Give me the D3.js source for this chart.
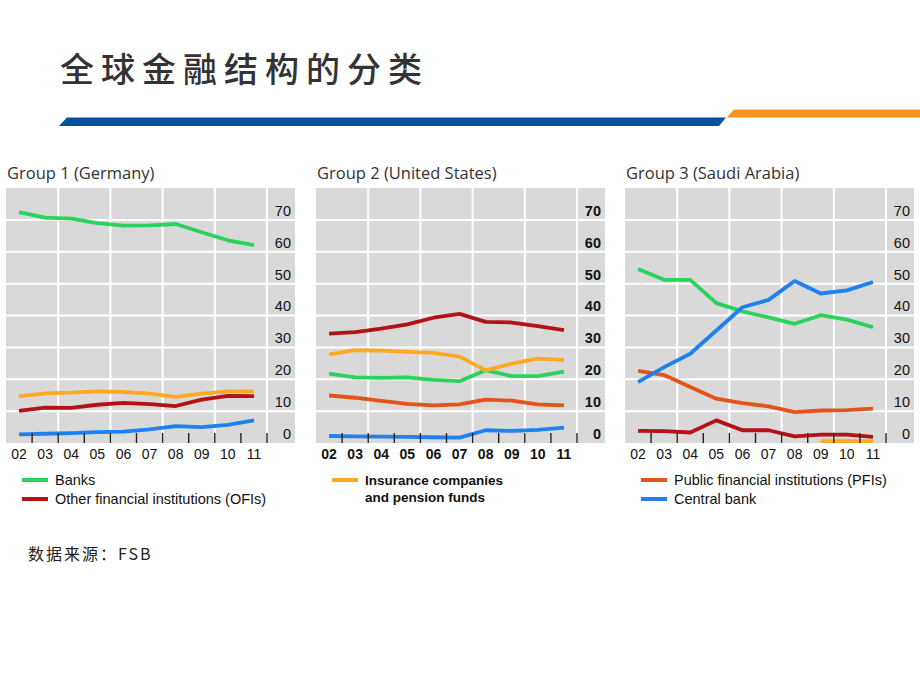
<!DOCTYPE html>
<html>
<head>
<meta charset="utf-8">
<script src="https://cdn.jsdelivr.net/npm/d3@7/dist/d3.min.js"></script>
<style>
  html, body { margin: 0; padding: 0; background: #ffffff; }
  svg { display: block; }
</style>
</head>
<body>
<svg id="chart" width="920" height="690"></svg>
<script>
// ---------------- DATA ----------------
const years = ["02", "03", "04", "05", "06", "07", "08", "09", "10", "11"];
const yTickValues = [0, 10, 20, 30, 40, 50, 60, 70];

// Group 1 (Germany), % of financial assets
const deBanks     = [72.4, 70.7, 70.4, 69.0, 68.2, 68.3, 68.7, 66.1, 63.6, 62.1];
const deInsurance = [14.6, 15.6, 15.8, 16.2, 16.0, 15.5, 14.5, 15.5, 16.2, 16.2];
const deOFIs      = [10.1, 11.1, 11.0, 12.0, 12.6, 12.2, 11.6, 13.6, 14.8, 14.7];
const deCentral   = [2.7, 2.9, 3.1, 3.4, 3.6, 4.3, 5.3, 5.0, 5.7, 7.1];

// Group 2 (United States)
const usOFIs      = [34.3, 34.8, 35.9, 37.2, 39.3, 40.5, 38.0, 37.8, 36.7, 35.4];
const usInsurance = [27.8, 29.1, 29.0, 28.6, 28.3, 27.1, 22.8, 24.9, 26.5, 26.1];
const usBanks     = [21.8, 20.6, 20.4, 20.6, 19.8, 19.4, 22.8, 21.0, 21.0, 22.4];
const usPFIs      = [14.9, 14.2, 13.2, 12.3, 11.8, 12.1, 13.6, 13.3, 12.1, 11.8];
const usCentral   = [2.2, 2.1, 2.0, 1.9, 1.8, 1.7, 4.0, 3.8, 4.1, 4.8];

// Group 3 (Saudi Arabia)
const saBanks     = [54.6, 51.2, 51.2, 43.9, 41.3, 39.4, 37.4, 40.1, 38.7, 36.3];
const saCentral   = [19.1, 23.8, 28.0, 35.3, 42.6, 44.9, 50.8, 46.9, 47.9, 50.5];
const saPFIs      = [22.6, 21.3, 17.6, 13.9, 12.5, 11.5, 9.7, 10.2, 10.3, 10.8];
const saOFIs      = [3.8, 3.7, 3.3, 7.1, 4.0, 4.0, 2.1, 2.6, 2.6, 1.9];
const saInsurance = [null, null, null, null, null, null, null, 0.6, 0.6, 0.6];

const seriesLabels = {
  banks: "Banks",
  ofis: "Other financial institutions (OFIs)",
  insurance: ["Insurance companies", "and pension funds"],
  pfis: "Public financial institutions (PFIs)",
  central: "Central bank"
};
const panelTitles = ["Group 1 (Germany)", "Group 2 (United States)", "Group 3 (Saudi Arabia)"];
const mainTitle = "全球金融结构的分类";
const sourceText = "数据来源：FSB";

// ---------------- STYLE ----------------
const colors = {
  banks: "#2bd35c",
  ofis: "#b31217",
  insurance: "#fda924",
  pfis: "#e2541a",
  central: "#1f80f0"
};

const panels = [
  { title: panelTitles[0], left: 6, bold: false,
    series: [["banks", deBanks], ["insurance", deInsurance], ["ofis", deOFIs], ["central", deCentral]],
    legend: [["banks", [seriesLabels.banks]], ["ofis", [seriesLabels.ofis]]] },
  { title: panelTitles[1], left: 316, bold: true,
    series: [["banks", usBanks], ["insurance", usInsurance], ["ofis", usOFIs], ["pfis", usPFIs], ["central", usCentral]],
    legend: [["insurance", seriesLabels.insurance]] },
  { title: panelTitles[2], left: 625, bold: false,
    series: [["banks", saBanks], ["insurance", saInsurance], ["ofis", saOFIs], ["pfis", saPFIs], ["central", saCentral]],
    legend: [["pfis", [seriesLabels.pfis]], ["central", [seriesLabels.central]]] }
];

const svg = d3.select("#chart");

// ---------------- HEADER ----------------
svg.append("text")
  .attr("x", 60).attr("y", 82)
  .attr("font-family", "'Noto Sans CJK SC', sans-serif")
  .attr("font-size", 34)
  .attr("font-weight", 500)
  .attr("letter-spacing", 7)
  .attr("fill", "#333333")
  .text(mainTitle);

// banner bars (parallelograms)
svg.append("path")
  .attr("d", "M67,117.5 L726,117.5 L719,126 L59,126 Z")
  .attr("fill", "#0a4f9f");
svg.append("path")
  .attr("d", "M734,109.5 L920,109.5 L920,117.5 L727,117.5 Z")
  .attr("fill", "#f7941d");

// ---------------- PANELS ----------------
const plotTop = 188, plotBottom = 443, panelWidth = 289, bandsWidth = 261;
const y = d3.scaleLinear().domain([0, 80]).range([plotBottom, plotTop]);

panels.forEach(p => {
  const g = svg.append("g");
  const x = d3.scaleBand().domain(years).range([p.left, p.left + bandsWidth]);
  const cx = d => x(d) + x.bandwidth() / 2;

  // title
  g.append("text")
    .attr("x", p.left + 1).attr("y", 179)
    .attr("font-family", "'Open Sans', 'Noto Sans', sans-serif")
    .attr("font-size", 16.5)
    .attr("fill", "#333")
    .text(p.title);

  // background
  g.append("rect")
    .attr("x", p.left).attr("y", plotTop)
    .attr("width", panelWidth).attr("height", plotBottom - plotTop)
    .attr("fill", "#d9d9d9");

  // horizontal gridlines
  g.append("g").selectAll("line")
    .data(yTickValues.filter(v => v > 0))
    .join("line")
    .attr("x1", p.left).attr("x2", p.left + panelWidth)
    .attr("y1", d => y(d)).attr("y2", d => y(d))
    .attr("stroke", "#ffffff").attr("stroke-width", 2);

  // vertical gridlines (every second year boundary)
  g.append("g").selectAll("line")
    .data(years.filter((d, i) => i % 2 === 1))
    .join("line")
    .attr("x1", d => x(d) + x.bandwidth()).attr("x2", d => x(d) + x.bandwidth())
    .attr("y1", plotTop).attr("y2", plotBottom)
    .attr("stroke", "#ffffff").attr("stroke-width", 2);

  // y labels (drawn above their gridline, inside the right strip)
  const yAxis = d3.axisLeft(y).tickValues(yTickValues).tickSize(0).tickPadding(0).tickFormat(d3.format("d"));
  const ya = g.append("g").attr("transform", `translate(${p.left + 285},0)`).call(yAxis);
  ya.select(".domain").remove();
  ya.selectAll("text")
    .attr("dy", "-0.32em")
    .attr("font-family", "'Liberation Sans', Arial, sans-serif")
    .attr("font-size", 14.5)
    .attr("font-weight", p.bold ? "bold" : "normal")
    .attr("fill", "#111");

  // lines
  const line = d3.line()
    .defined(d => d.v !== null)
    .x(d => cx(d.year))
    .y(d => y(d.v));
  p.series.forEach(([key, vals]) => {
    g.append("path")
      .datum(years.map((yr, i) => ({ year: yr, v: vals[i] })))
      .attr("d", line)
      .attr("fill", "none")
      .attr("stroke", colors[key])
      .attr("stroke-width", 3.8)
      .attr("stroke-linejoin", "round");
  });

  // bottom ticks at year boundaries
  g.append("g").selectAll("line")
    .data(years)
    .join("line")
    .attr("x1", d => x(d) + x.bandwidth()).attr("x2", d => x(d) + x.bandwidth())
    .attr("y1", plotBottom - 10).attr("y2", plotBottom)
    .attr("stroke", "#222").attr("stroke-width", 1.4);

  // x labels
  const xAxis = d3.axisBottom(x).tickSize(0).tickPadding(6);
  const xa = g.append("g").attr("transform", `translate(0,${plotBottom})`).call(xAxis);
  xa.select(".domain").remove();
  xa.selectAll("text")
    .attr("font-family", "'Liberation Sans', Arial, sans-serif")
    .attr("font-size", 14)
    .attr("font-weight", p.bold ? "bold" : "normal")
    .attr("fill", "#111");

  // legend
  let ly = 480;
  p.legend.forEach(([key, lines]) => {
    g.append("line")
      .attr("x1", p.left + 16).attr("x2", p.left + 42)
      .attr("y1", ly).attr("y2", ly)
      .attr("stroke", colors[key]).attr("stroke-width", 4);
    lines.forEach((t, j) => {
      g.append("text")
        .attr("x", p.left + 49).attr("y", ly + j * 17)
        .attr("dy", "0.35em")
        .attr("font-family", "'Liberation Sans', Arial, sans-serif")
        .attr("font-size", p.bold ? 13.5 : 14.5)
        .attr("font-weight", p.bold ? "bold" : "normal")
        .attr("fill", "#111")
        .text(t);
    });
    ly += 19;
  });
});

// ---------------- SOURCE ----------------
svg.append("text")
  .attr("x", 28).attr("y", 560)
  .attr("font-family", "'Noto Sans CJK SC', sans-serif")
  .attr("font-size", 16)
  .attr("letter-spacing", 2)
  .attr("fill", "#222")
  .text(sourceText);
</script>
</body>
</html>
